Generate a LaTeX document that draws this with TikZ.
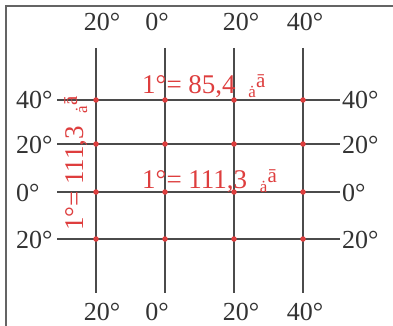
\documentclass[tikz,border=0pt]{standalone}
\usepackage{fontspec}
\setmainfont{Liberation Serif}
\definecolor{gridc}{RGB}{75,75,75}
\definecolor{redc}{RGB}{222,62,62}
\definecolor{framec}{RGB}{100,100,100}
\newcommand{\kmsuf}{\hspace{6pt}\raisebox{-4pt}{\fontsize{17}{17}\selectfont ȧ}\raisebox{6pt}{\fontsize{21}{21}\selectfont ā}}
\begin{document}
\begin{tikzpicture}[x=1pt,y=-1pt,
  grid/.style={draw=gridc,line width=1.7pt},
  lab/.style={inner sep=0pt,font=\fontsize{26}{26}\selectfont,text=black!80},
  rlab/.style={inner sep=0pt,font=\fontsize{27}{27}\selectfont,text=redc},
  dot/.style={circle,fill=redc,inner sep=0pt,minimum size=5.5pt}]
\useasboundingbox (0,0) rectangle (393,326);
\fill[white] (0,0) rectangle (393,326);
\draw[framec,line width=1.3pt] (6,326) -- (6,6) -- (393,6);
% vertical lines
\foreach \n/\x in {a/96,b/165,c/234,d/303}{
  \coordinate (v\n t) at (\x,48);
  \coordinate (v\n b) at (\x,293);
  \draw[grid] (v\n t) -- (v\n b);
}
% horizontal lines
\foreach \n/\y in {a/100,b/144,c/192,d/239}{
  \coordinate (h\n l) at (57,\y);
  \coordinate (h\n r) at (340,\y);
  \draw[grid] (h\n l) -- (h\n r);
}
% dots
\foreach \n/\x in {a/96,b/165,c/234,d/303}{
  \foreach \m/\y in {a/100,b/144,c/192,d/239}{
    \node[dot] (p\n\m) at (\x,\y) {};
  }
}
% top / bottom labels
\foreach \n/\x/\t in {a/102/20°,b/157/0°,c/241/20°,d/305/40°}{
  \node[lab,anchor=base] (t\n) at (\x,31) {\t};
  \node[lab,anchor=base] (b\n) at (\x,320) {\t};
}
% left labels
\foreach \n/\y/\t in {a/109/40°,b/153/20°,c/201/0°,d/248/20°}{
  \node[lab,anchor=base west] (l\n) at (16,\y) {\t};
  \node[lab,anchor=base west] (r\n) at (342,\y) {\t};
}
% red labels
\node[rlab,anchor=base west] (k1) at (142,94) {1°= 85,4 \kmsuf};
\node[rlab,anchor=base west] (k2) at (142,188) {1°= 111,3 \kmsuf};
\node[rlab,anchor=base west,rotate=90] (k3) at (83,231) {1°= 111,3 \kmsuf};
\end{tikzpicture}
\end{document}
